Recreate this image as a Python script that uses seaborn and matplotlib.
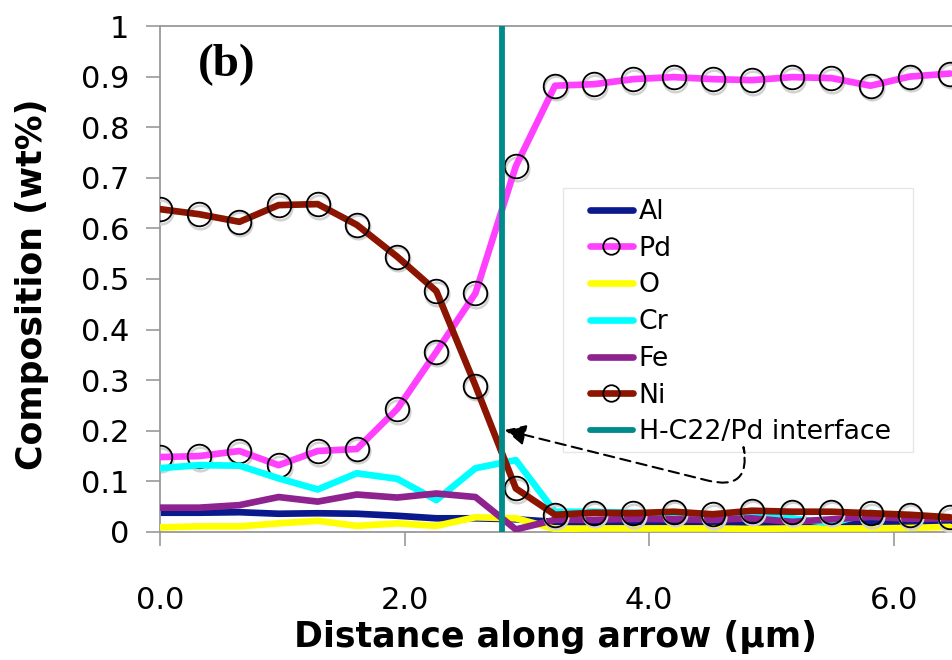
import numpy as np
import pandas as pd
import matplotlib
matplotlib.use("Agg")
import matplotlib.pyplot as plt
from matplotlib.patches import Rectangle
from matplotlib.transforms import offset_copy
import seaborn as sns

# ---- data ----
distance = [0.0, 0.32, 0.65, 0.97, 1.29, 1.61, 1.94, 2.26, 2.58, 2.91, 3.23,
            3.55, 3.87, 4.20, 4.52, 4.84, 5.17, 5.49, 5.81, 6.13, 6.46]
al = [0.038, 0.038, 0.039, 0.036, 0.037, 0.036, 0.032, 0.027, 0.027, 0.025, 0.020,
      0.018, 0.018, 0.017, 0.017, 0.017, 0.017, 0.017, 0.017, 0.017, 0.018]
pd_ = [0.148, 0.150, 0.160, 0.132, 0.160, 0.164, 0.243, 0.356, 0.472, 0.723, 0.882,
       0.885, 0.895, 0.899, 0.895, 0.893, 0.899, 0.897, 0.882, 0.900, 0.906]
o = [0.009, 0.011, 0.011, 0.017, 0.022, 0.012, 0.017, 0.012, 0.029, 0.027, 0.006,
     0.007, 0.007, 0.007, 0.007, 0.006, 0.007, 0.007, 0.007, 0.008, 0.010]
cr = [0.126, 0.132, 0.131, 0.106, 0.084, 0.116, 0.105, 0.063, 0.126, 0.142, 0.040,
      0.040, 0.038, 0.034, 0.034, 0.034, 0.027, 0.017, 0.038, 0.030, 0.028]
fe = [0.048, 0.048, 0.053, 0.069, 0.060, 0.074, 0.068, 0.076, 0.069, 0.005, 0.024,
      0.024, 0.026, 0.025, 0.024, 0.027, 0.020, 0.025, 0.030, 0.026, 0.027]
ni = [0.638, 0.628, 0.613, 0.646, 0.648, 0.607, 0.544, 0.476, 0.289, 0.086, 0.034,
      0.038, 0.037, 0.040, 0.035, 0.042, 0.040, 0.040, 0.037, 0.034, 0.029]
interface_x = 2.80

series_names = ["Al", "Pd", "O", "Cr", "Fe", "Ni"]
series_vals = [al, pd_, o, cr, fe, ni]
series_colors = ["#0a1a8c", "#ff40ff", "#ffff00", "#00ffff", "#8e2390", "#8b1500"]
series_marked = [False, True, False, False, False, True]
y_ticks = [0, 0.1, 0.2, 0.3, 0.4, 0.5, 0.6, 0.7, 0.8, 0.9, 1]
y_ticklabels = ["0", "0.1", "0.2", "0.3", "0.4", "0.5", "0.6", "0.7", "0.8", "0.9", "1"]
x_ticks = [0, 2, 4, 6]
x_ticklabels = ["0.0", "2.0", "4.0", "6.0"]

sns.set_theme(style="white")
plt.rcParams["font.family"] = ["DejaVu Sans"]
plt.rcParams["text.color"] = "black"
plt.rcParams["axes.labelcolor"] = "black"

fig = plt.figure(figsize=(9.52, 6.6), dpi=100)
ax = fig.add_axes([0.168, 0.194, 0.832, 0.7666])

shadow_tr = offset_copy(ax.transData, fig=fig, x=1.0, y=-2.5, units="dots")

for i, (name, vals, col, mk) in enumerate(zip(series_names, series_vals, series_colors, series_marked)):
    df = pd.DataFrame({"x": distance, "y": vals})
    kw = dict(color=col, linewidth=4.8, label=name, sort=False, ax=ax, zorder=2 + i)
    if mk:
        kw.update(marker="o", markersize=17, markerfacecolor="none",
                  markeredgecolor="black", markeredgewidth=1.3)
        # soft marker shadow
        sns.lineplot(data=df, x="x", y="y", sort=False, ax=ax, legend=False,
                     label="_shadow", linestyle="", marker="o", markersize=17,
                     markerfacecolor="none", markeredgecolor="#d2d2d2",
                     markeredgewidth=1.8, transform=shadow_tr, zorder=1.5 + i)
    sns.lineplot(data=df, x="x", y="y", **kw)

ax.axvline(interface_x, color="#008b8b", linewidth=4.2, label="H-C22/Pd interface", zorder=10)

ax.set_xlim(0, 6.476)
ax.set_ylim(0, 1)
ax.set_yticks(y_ticks)
ax.set_yticklabels(y_ticklabels)
ax.set_xticks(x_ticks)
ax.set_xticklabels(x_ticklabels)
ax.tick_params(axis="y", direction="out", length=10, width=1.2, color="#999999",
               labelsize=22, pad=12, left=True, labelcolor="black")
ax.tick_params(axis="x", direction="out", length=10, width=1.2, color="#999999",
               labelsize=22, pad=29, bottom=True, labelcolor="black")
for s in ["left", "bottom", "top"]:
    ax.spines[s].set_color("#999999")
    ax.spines[s].set_linewidth(1.3)
ax.spines["right"].set_visible(False)

ax.set_xlabel("Distance along arrow (\u03bcm)", fontsize=25, fontweight="bold")
ax.xaxis.set_label_coords(0.5, -0.2075)
ax.xaxis.label.set_va("center")
ax.set_ylabel("Composition (wt%)", fontsize=25, fontweight="bold")
ax.yaxis.set_label_coords(-0.1616, 0.49)
ax.yaxis.label.set_va("center")

ax.text(0.048, 0.923, "(b)", transform=ax.transAxes, fontsize=34, fontweight="bold",
        family="Liberation Serif", va="center", ha="left", color="black")

# legend frame drawn as a box, legend content placed inside it
ax.add_patch(Rectangle((0.509, 0.1577), 0.442, 0.5223, transform=ax.transAxes,
                       facecolor="white", edgecolor="#e6e6e6", linewidth=1.0, zorder=11))
leg = ax.legend(loc="upper left", bbox_to_anchor=(0.543, 0.658), borderaxespad=0,
                fontsize=19.3, frameon=False, handlelength=1.6, handletextpad=0.22,
                labelspacing=0.40, markerscale=0.7, borderpad=0)
leg.set_zorder(12)

ax.annotate("", xy=(2.82, 0.2016), xytext=(4.78, 0.156),
            arrowprops=dict(arrowstyle="-|>,head_length=0.9,head_width=0.45",
                            mutation_scale=14,
                            linestyle=(0, (5, 3)), linewidth=1.5, color="black",
                            connectionstyle="angle,angleA=100,angleB=-14,rad=45",
                            shrinkA=0, shrinkB=0), zorder=13)

fig.savefig("out.png", dpi=100)
